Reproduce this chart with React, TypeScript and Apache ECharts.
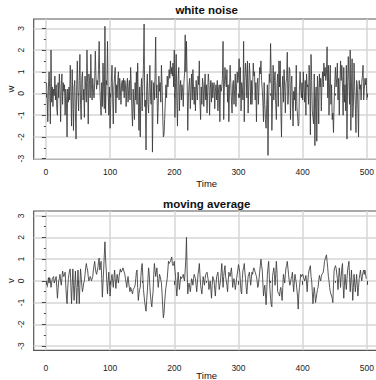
import React, { useEffect, useRef } from "react";
import * as echarts from "echarts";

// white noise w_t, t = 1..500
const W: number[] = [
  0.5,-0.2,-1.3,0.3,1.0,0.1,-1.4,2.0,-0.4,0.3,
  -0.6,0.2,-0.1,0.8,-0.3,0.4,-0.7,-1.0,0.5,-0.2,
  0.9,0.2,-1.3,0.4,0.9,-0.5,0.5,0.1,0.4,-1.0,
  0.2,-0.3,-2.0,0.2,-0.4,0.3,-0.3,1.3,0.1,-1.5,
  1.1,-0.2,-1.7,0.3,0.6,-0.9,-2.1,0.4,1.5,-0.1,
  -0.8,0.6,1.8,-0.5,-1.2,0.7,1.0,-0.3,0.2,-1.1,
  0.8,0.3,-0.4,2.0,0.5,-1.4,0.9,0.6,-0.2,1.8,
  0.4,-0.3,0.7,0.2,-0.2,0.5,1.95,0.8,0.2,0.6,
  0.4,1.1,2.4,0.3,-0.4,-1.0,0.5,-0.6,1.4,0.2,
  -0.7,3.1,-0.9,0.6,0.4,2.4,0.1,-1.0,0.3,-1.6,
  -0.5,0.5,1.3,-0.2,-1.4,0.3,0.8,1.2,-0.9,0.4,
  -0.2,0.6,1.0,-0.3,0.7,0.2,-0.5,0.5,0.6,0.1,
  0.7,-0.2,0.6,0.4,-0.6,0.3,0.7,-0.4,0.2,0.6,
  -0.3,1.2,0.4,-0.8,-1.5,0.2,-0.6,-1.2,0.5,-0.3,
  1.0,-0.5,1.4,-0.4,-1.7,0.3,-2.0,0.1,0.7,-0.8,
  0.4,1.3,3.2,-0.6,-0.3,-2.6,0.2,0.9,-0.5,-0.9,
  0.3,1.3,-0.2,-0.5,0.6,-2.7,-0.4,0.5,-0.3,0.8,
  2.6,-0.2,0.4,-1.4,-0.6,0.8,0.1,0.5,-0.4,1.3,
  0.4,-1.0,-2.0,-1.9,-1.2,-0.4,0.4,-0.2,0.8,0.3,
  0.6,1.1,0.7,1.5,0.9,1.2,0.8,1.4,0.3,2.0,
  -1.1,0.5,1.8,-0.4,-1.5,0.7,1.2,-0.8,0.3,0.6,
  -0.3,0.4,0.1,-0.6,0.5,0.9,2.7,1.0,2.4,0.7,
  -1.7,-0.2,0.4,0.7,-0.7,0.2,0.9,-0.3,1.1,0.2,
  -0.5,0.3,-0.8,0.6,0.2,-0.3,0.8,0.4,1.5,-0.4,
  -1.2,0.3,-0.5,0.7,0.4,-0.6,0.2,0.9,-0.3,0.4,
  -0.9,0.1,0.9,0.5,-1.0,0.2,0.6,-0.4,0.5,-0.2,
  0.3,0.5,-0.7,0.1,0.4,-0.3,0.6,-0.8,0.2,0.4,
  -1.3,0.4,0.1,0.3,0.7,2.4,-1.2,0.3,1.2,0.6,
  0.3,1.1,-0.4,0.4,-1.3,0.2,1.3,0.5,-0.3,-0.9,
  0.4,0.6,-0.5,0.2,0.9,-0.6,0.3,1.0,0.5,0.8,
  1.6,-0.2,1.2,-0.8,0.5,0.2,-0.3,2.4,-1.3,0.6,
  1.4,0.9,-0.2,1.5,-0.9,0.3,1.4,0.8,-0.5,0.6,
  -0.5,0.2,1.4,0.8,1.0,-0.3,0.5,-1.3,0.4,0.7,
  -0.5,0.3,1.2,0.9,1.5,0.6,0.2,-0.4,-1.3,0.5,
  -0.5,-1.2,-1.6,-0.5,0.4,-2.85,-0.3,0.9,0.5,2.3,
  0.8,-1.7,-0.4,1.3,-0.3,0.6,1.0,-0.5,-1.2,0.4,
  0.9,-0.6,1.5,0.3,1.5,-0.8,-2.0,0.2,0.8,-0.4,
  1.1,0.3,-0.9,0.5,0.7,1.9,-0.5,0.2,1.2,1.1,
  -1.2,0.4,0.8,-0.3,-1.5,0.1,-0.3,0.3,-0.8,1.3,
  -0.6,-1.0,-1.5,-1.4,0.3,1.0,0.2,-0.2,0.5,-0.3,
  1.0,0.2,-0.4,0.6,-1.0,0.9,0.3,0.4,-0.5,1.3,
  0.5,-1.9,1.8,0.6,-0.8,-1.1,-1.4,0.9,-2.4,-0.2,
  0.3,-2.2,0.8,0.2,-1.4,0.9,0.3,0.7,-0.8,0.5,
  1.0,0.3,1.4,0.8,1.2,0.6,0.9,2.15,-0.2,1.3,
  -1.0,0.5,1.3,-0.5,0.4,-1.2,-0.9,-1.8,-0.4,0.5,
  1.2,0.3,0.7,1.4,-0.3,0.7,-1.0,0.4,1.5,0.6,
  1.3,0.3,-1.0,1.2,-0.4,0.4,-0.8,1.3,-2.1,0.5,
  1.7,0.6,-0.5,2.0,-1.7,0.3,1.6,-1.1,-0.6,1.4,
  0.3,-0.5,-1.8,0.6,0.4,-0.7,-2.0,0.6,0.2,0.4,
  -0.3,0.5,0.8,1.3,-0.3,0.2,0.7,0.4,0.7,-0.3,
];

// moving average v_t, t = 1..500 (undefined at both ends)
const V: (number | null)[] = [
  null,-0.3,-0.1,0.15,-0.1,0.15,0.0,-0.3,-0.1,0.1,
  0.15,0.2,-0.1,0.0,0.1,0.2,-0.3,-0.8,-0.4,0.0,
  0.1,0.3,0.0,-0.2,0.1,0.45,0.3,0.2,0.3,0.4,
  -0.2,-0.7,-1.05,-0.4,0.1,0.3,0.5,0.55,-0.3,-1.05,
  -0.2,0.55,-0.2,-0.9,-0.2,0.45,-0.3,-1.05,-0.3,0.5,
  -0.3,-1.05,-0.2,0.55,0.2,-0.2,-0.5,-0.3,-0.1,0.0,
  0.3,0.6,0.8,0.6,0.5,0.2,0.0,0.1,0.2,0.1,
  0.0,0.0,0.2,0.5,0.7,0.9,0.6,0.4,0.3,0.3,
  0.6,0.9,1.05,0.5,0.7,0.9,0.1,-0.75,-0.1,0.5,
  1.2,1.8,1.0,0.5,-0.1,-0.6,0.0,0.4,-0.1,-0.7,
  -0.3,0.1,0.3,0.0,-0.3,0.1,0.5,0.1,-0.35,0.0,
  0.3,0.1,-0.1,0.2,0.4,0.55,0.4,0.4,0.5,0.6,
  0.6,0.4,0.3,0.1,-0.1,-0.3,0.0,0.2,-0.1,-0.3,
  -0.5,-0.3,-0.3,-0.5,-0.6,-0.4,-0.4,-0.3,-0.2,0.1,
  0.4,0.5,-0.3,-0.9,-0.6,-0.4,-0.3,0.2,0.6,0.8,
  0.2,-0.4,-0.7,-1.0,-1.2,-1.4,-0.9,-0.5,0.1,0.6,
  0.3,-0.3,-0.7,-1.0,-1.2,-0.8,-0.5,0.3,0.8,0.5,
  0.2,0.4,0.6,0.1,-0.3,0.0,0.3,0.2,0.2,-0.1,
  -0.6,-1.2,-1.7,-1.5,-1.0,-0.6,-0.3,-0.1,0.1,0.5,
  0.9,0.8,0.8,0.9,1.0,1.1,0.8,0.7,0.8,0.9,
  0.5,0.2,-0.3,-0.7,-0.2,0.4,0.0,-0.4,-0.1,0.2,
  0.1,0.1,0.2,0.3,0.1,0.0,0.0,1.0,2.0,0.5,
  -0.6,-0.3,-0.1,-0.3,-0.5,-0.2,0.1,0.0,-0.2,0.1,
  0.3,0.2,0.1,-0.2,-0.5,-0.1,0.3,0.5,0.8,0.3,
  -0.2,-0.4,-0.6,-0.2,0.2,0.0,-0.2,0.1,0.3,0.3,
  0.4,0.4,0.0,-0.4,-0.2,0.0,-0.4,-0.8,-0.2,0.2,
  0.1,0.0,-0.4,-0.7,-0.2,0.2,0.3,0.4,0.0,-0.4,
  -0.2,0.0,0.4,0.8,0.2,-0.3,0.2,0.5,0.7,0.2,
  0.0,-0.2,-0.5,0.0,0.4,0.3,0.2,0.4,0.6,0.2,
  -0.3,0.0,0.1,-0.1,-0.4,-0.2,0.1,0.3,0.5,0.75,
  0.6,0.4,-0.1,-0.5,-0.6,0.1,0.5,0.6,0.8,0.4,
  0.1,-0.3,-0.6,-0.2,0.2,0.3,0.4,0.1,-0.2,0.1,
  0.4,0.3,0.5,0.6,0.5,0.4,0.3,0.2,0.0,-0.3,
  -0.2,0.1,0.4,0.7,1.0,0.7,0.5,-0.1,-0.7,-0.4,
  -0.2,-0.6,-1.1,-0.5,0.3,0.6,0.9,0.2,-0.4,-0.8,
  -1.1,-1.2,0.2,0.4,0.6,0.3,-0.2,0.3,0.9,0.4,
  -0.5,-0.5,-0.6,-0.7,-0.4,-0.3,-0.6,-0.9,-0.3,0.3,
  0.1,-0.1,0.3,0.6,0.7,0.9,0.6,0.3,0.0,-0.2,
  -0.1,0.1,0.2,0.4,-0.1,-0.5,0.0,0.3,0.1,-0.1,
  -0.1,-0.7,-1.3,-0.6,-0.3,0.0,0.3,0.2,0.2,0.3,
  0.3,0.1,0.0,0.1,0.25,-0.1,-0.5,0.0,0.3,0.5,
  0.6,0.7,0.2,0.0,-0.5,-1.05,-0.6,-0.3,-0.6,-1.0,
  -0.8,-0.6,-0.4,-0.3,0.0,0.25,0.1,0.0,0.2,0.3,
  0.3,0.4,0.6,0.9,1.0,1.1,1.2,0.9,0.6,0.2,
  0.0,-0.3,-0.5,-0.6,-0.7,-0.8,-1.0,-0.2,0.5,0.6,
  0.7,0.6,0.6,0.1,-0.4,0.1,0.6,0.2,-0.3,0.2,
  0.6,0.8,-0.2,-0.8,-0.2,0.3,-0.1,-0.4,0.1,0.5,
  0.7,0.9,0.2,-0.5,0.0,0.5,-0.2,-0.9,-0.3,0.3,
  -0.1,-0.5,-0.1,0.3,-0.2,-0.7,-0.3,0.1,0.3,0.5,
  0.2,0.0,0.2,0.4,0.5,0.3,0.5,0.3,0.1,null,
];

const TIME_TICKS = [0, 100, 200, 300, 400, 500];
const TIME_MINOR = [50, 150, 250, 350, 450];
const Y_TICKS = [-3, -2, -1, 0, 1, 2, 3];
const Y_MINOR = [-2.5, -1.5, -0.5, 0.5, 1.5, 2.5];
const TITLES = ["white noise", "moving average"];
const Y_NAMES = ["w", "v"];

const FONT = "'Liberation Sans', Arial, Helvetica, sans-serif";
const X_MIN = -18.96;
const X_MAX = 519.96;

const PANELS = [
  { top: 19, height: 140.3, yMin: -3.03, yMax: 3.43, titleY: 10.3, labelMargin: 8, nameGap: 19 },
  { top: 211, height: 139.3, yMin: -3.2, yMax: 3.22, titleY: 203.8, labelMargin: 13, nameGap: 20 },
];

export default function App() {
  const ref = useRef<HTMLDivElement>(null);

  useEffect(() => {
    if (!ref.current) return;
    const chart = echarts.init(ref.current, undefined, { renderer: "svg" });

    const grids: any[] = [];
    const xAxes: any[] = [];
    const yAxes: any[] = [];

    PANELS.forEach((p, i) => {
      grids.push({
        left: 33.7,
        right: -3.7,
        top: p.top,
        height: p.height,
        show: true,
        containLabel: false,
        outerBoundsMode: "none",
        borderColor: "#555",
        borderWidth: 1.2,
        backgroundColor: "transparent",
      });
      xAxes.push({
        type: "value",
        gridIndex: i,
        min: X_MIN,
        max: X_MAX,
        axisLine: { show: false },
        axisTick: { show: true, length: 4, lineStyle: { color: "#444", width: 1 }, customValues: TIME_TICKS },
        axisLabel: {
          customValues: TIME_TICKS,
          fontSize: 8.5,
          color: "#222",
          margin: p.labelMargin,
          fontFamily: FONT,
        },
        splitLine: { show: true, lineStyle: { color: "#d6d6d6", width: 1.5 } },
        name: "Time",
        nameLocation: "middle",
        nameGap: p.nameGap,
        nameMoveOverlap: false,
        nameTextStyle: { fontSize: 9.5, color: "#111", fontFamily: FONT },
      });
      yAxes.push({
        type: "value",
        gridIndex: i,
        min: p.yMin,
        max: p.yMax,
        axisLine: { show: false },
        axisTick: { show: true, length: 4, lineStyle: { color: "#444", width: 1 }, customValues: Y_TICKS },
        axisLabel: {
          customValues: Y_TICKS,
          rotate: 90,
          fontSize: 8.5,
          color: "#222",
          margin: 8,
          fontFamily: FONT,
        },
        splitLine: { show: true, lineStyle: { color: "#d6d6d6", width: 1.5 } },
        name: Y_NAMES[i],
        nameLocation: "middle",
        nameGap: 18,
        nameMoveOverlap: false,
        nameTextStyle: { fontSize: 9.5, color: "#111", fontFamily: FONT },
      });
    });

    // overlay grids for the short minor ticks
    PANELS.forEach((p, i) => {
      grids.push({
        left: 33.7,
        right: -3.7,
        top: p.top,
        height: p.height,
        show: false,
        containLabel: false,
        outerBoundsMode: "none",
      });
      xAxes.push({
        type: "value",
        gridIndex: 2 + i,
        min: X_MIN,
        max: X_MAX,
        axisLine: { show: false },
        axisLabel: { show: false },
        splitLine: { show: false },
        axisTick: { show: true, length: 2, lineStyle: { color: "#444", width: 1 }, customValues: TIME_MINOR },
      });
      yAxes.push({
        type: "value",
        gridIndex: 2 + i,
        min: p.yMin,
        max: p.yMax,
        axisLine: { show: false },
        axisLabel: { show: false },
        splitLine: { show: false },
        axisTick: { show: true, length: 2, lineStyle: { color: "#444", width: 1 }, customValues: Y_MINOR },
      });
    });

    const wData = W.map((val, k) => [k + 1, val]);
    const vData = V.map((val, k) => [k + 1, val]);

    chart.setOption({
      animation: false,
      backgroundColor: "#fff",
      grid: grids,
      xAxis: xAxes,
      yAxis: yAxes,
      graphic: PANELS.map((p, i) => ({
        type: "text",
        x: 206.7,
        y: p.titleY,
        style: {
          text: TITLES[i],
          fontSize: 11.5,
          fontWeight: "bold",
          fontFamily: FONT,
          fill: "#111",
          align: "center",
          verticalAlign: "middle",
          textAlign: "center",
          textVerticalAlign: "middle",
        },
      })),
      series: [
        {
          type: "line",
          xAxisIndex: 0,
          yAxisIndex: 0,
          data: wData,
          showSymbol: false,
          symbol: "none",
          lineStyle: { color: "#3a3a3a", width: 0.85 },
        },
        {
          type: "line",
          xAxisIndex: 1,
          yAxisIndex: 1,
          data: vData,
          showSymbol: false,
          symbol: "none",
          connectNulls: false,
          lineStyle: { color: "#3a3a3a", width: 0.85 },
        },
      ],
    });

    return () => chart.dispose();
  }, []);

  return (
    <div
      ref={ref}
      style={{ position: "fixed", left: 0, top: 0, width: 376, height: 380, background: "#fff" }}
    />
  );
}
